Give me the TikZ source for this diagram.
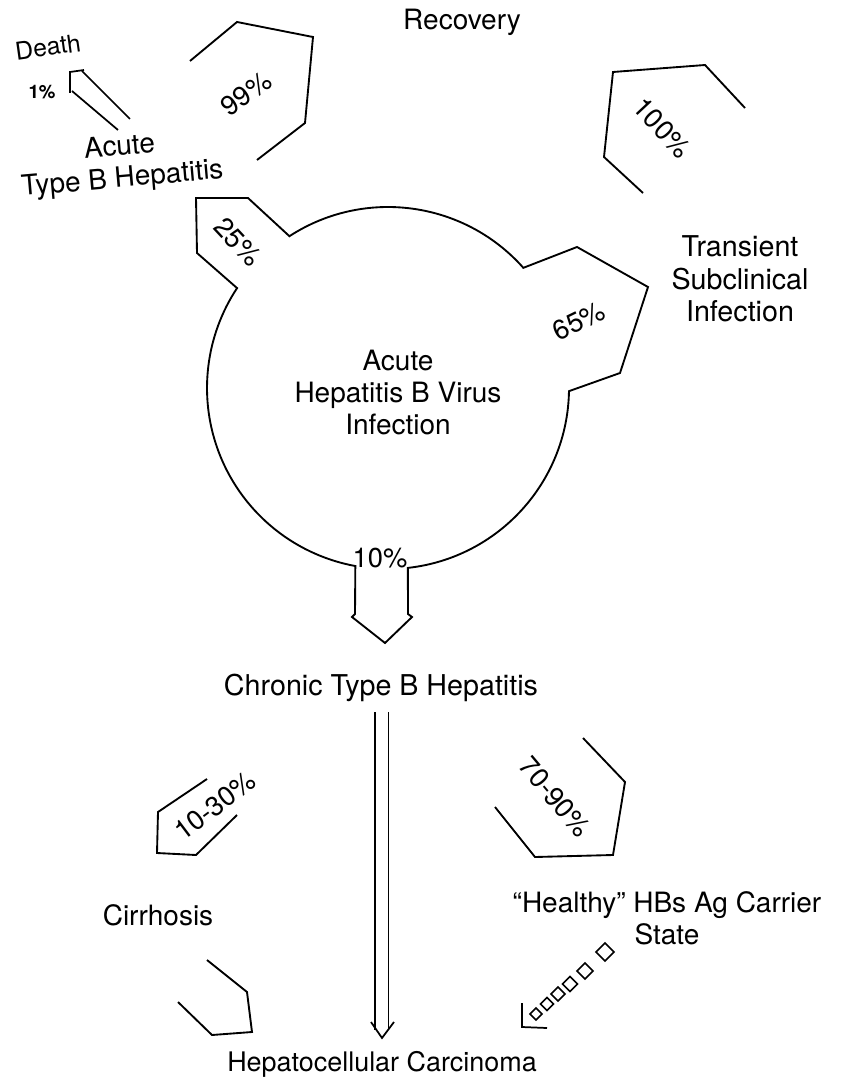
\documentclass[tikz,border=0pt]{standalone}
\usepackage{fontspec}
\setmainfont{TeX Gyre Heros}
\usetikzlibrary{calc}
\begin{document}
\begin{tikzpicture}[x=0.75pt,y=-0.75pt,
  outl/.style={draw=black,line width=1.4pt,line join=miter},
  lbl/.style={inner sep=0pt,align=center,font=\fontsize{21}{24}\selectfont},
  pct/.style={inner sep=0pt,font=\fontsize{20.5}{23}\selectfont},
  dia/.style={draw=black,line width=1.2pt}]
\useasboundingbox (0,0) rectangle (840,1087);
\fill[white] (0,0) rectangle (840,1087);

% circle centre and attach points
\coordinate (C) at (388,388);
\coordinate (a1) at ($(C)+(-41.6:181)$);
\coordinate (a2) at ($(C)+(1:181)$);
\coordinate (b1) at ($(C)+(83.7:181)$);
\coordinate (b2) at ($(C)+(100.4:181)$);
\coordinate (c1) at ($(C)+(213.5:181)$);
\coordinate (c2) at ($(C)+(237:181)$);

% circle with three outgoing arrows
\draw[outl] (a1) -- (577,247) -- (648,287) -- (620,373) -- (a2)
  arc[start angle=1,end angle=83.7,radius=181]
  -- (408,614) -- (412,617) -- (385,643) -- (352,617) -- (355,614) -- (b2)
  arc[start angle=100.4,end angle=213.5,radius=181]
  -- (197,253) -- (196,198) -- (248,198) -- (c2)
  arc[start angle=237,end angle=318.4,radius=181] -- cycle;

% text nodes
\node[lbl] (hbv) at (398,393) {Acute\\Hepatitis B Virus\\Infection};
\node[lbl] (recovery) at (462,22) {Recovery};
\node[lbl,font=\fontsize{21.5}{24.5}\selectfont] (transient) at (740,279) {Transient\\Subclinical\\Infection};
\node[lbl,rotate=5] (acuteB) at (121,164) {Acute\\Type B Hepatitis};
\node[lbl,rotate=8,font=\fontsize{18.5}{22}\selectfont] (death) at (48,47) {Death};
\node[pct,font=\fontsize{14}{16}\selectfont\bfseries] (p1) at (42,92) {1\%};
\node[lbl,font=\fontsize{21.5}{24}\selectfont] (chronic) at (381,688) {Chronic Type B Hepatitis};
\node[lbl] (cirrhosis) at (158,915) {Cirrhosis};
\node[lbl] (healthy) at (667,918) {``Healthy'' HBs Ag Carrier\\State};
\node[lbl,font=\fontsize{20.2}{24}\selectfont] (hcc) at (382,1064) {Hepatocellular Carcinoma};

% percentage labels
\node[pct] (p10) at (380,558) {10\%};
\node[pct,rotate=-47] (p25) at (238,242) {25\%};
\node[pct,rotate=26] (p65) at (579,321) {65\%};
\node[pct,rotate=36] (p99) at (246,94) {99\%};
\node[pct,rotate=-47] (p100) at (662,128) {100\%};
\node[pct,rotate=37] (p1030) at (215,806) {10-30\%};
\node[pct,rotate=-50] (p7090) at (555,797) {70-90\%};

% Acute type B -> Recovery (99%)
\draw[outl] (190,61) -- (237,22) -- (313,37) -- (305,123) -- (257,160);
% Transient -> Recovery (100%)
\draw[outl] (745,108) -- (705,65) -- (613,72) -- (604,157) -- (643,193);
% Acute type B -> Death (1%)
\draw[outl,line width=1.3pt] (130,119) -- (82,71);
\draw[outl,line width=1.3pt] (84,70) -- (70,72) -- (70,93);
\draw[outl,line width=1.3pt] (72,91) -- (118,130);
% Chronic -> Cirrhosis (10-30%)
\draw[outl] (207,779) -- (158,812) -- (157,853) -- (196,855) -- (237,815);
% Cirrhosis -> HCC
\draw[outl] (207,960) -- (247,992) -- (252,1032) -- (212,1035) -- (178,1002);
% Chronic -> Healthy carrier (70-90%)
\draw[outl] (583,738) -- (625,782) -- (613,855) -- (535,857) -- (495,807);
% Chronic -> HCC (double arrow)
\draw[line width=1.3pt,double=white,double distance=9pt] (chronic.south -| 381.5,0) ++(0,10) -- (381.5,1030);
\draw[outl,line width=1.3pt] (371,1022) -- (382,1038) -- (394,1022);
% Healthy carrier -> HCC (chain of diamonds)
\foreach \x/\y/\s in {536/1014/6,547/1004/6.5,558/994/7,570/984/7.5,585/971/8,605/952/9}
  \draw[dia] (\x-\s,\y) -- (\x,\y-\s) -- (\x+\s,\y) -- (\x,\y+\s) -- cycle;
\draw[outl,line width=1.3pt] (522,1003) -- (522,1027) -- (547,1028);
\end{tikzpicture}
\end{document}
